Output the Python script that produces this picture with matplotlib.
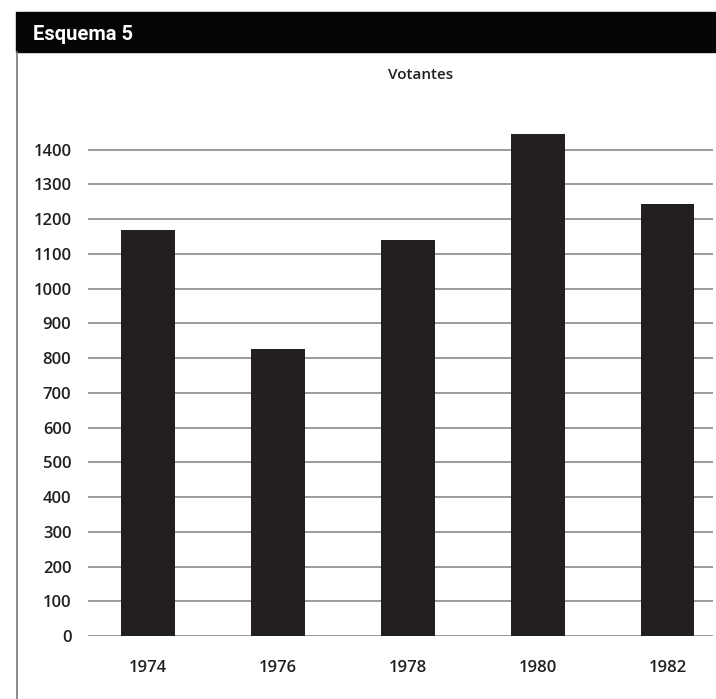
import matplotlib.pyplot as plt
from matplotlib.patches import Rectangle
from matplotlib.lines import Line2D

years = ["1974", "1976", "1978", "1980", "1982"]
votantes = [1170, 825, 1140, 1445, 1245]
yticks = list(range(0, 1500, 100))

BAR = "#231f20"
GRID = "#8a8a8a"

plt.rcParams["font.family"] = ["Open Sans", "DejaVu Sans"]

fig = plt.figure(figsize=(7.16, 6.99), dpi=100)
W, H = 716, 699

# header bar
fig.patches.append(Rectangle((16 / W, 1 - 52 / H), 1 - 16 / W, 40 / H,
                             transform=fig.transFigure, color="#050505", zorder=0))
fig.text(33 / W, 1 - 35 / H, "Esquema 5", color="white", fontsize=14.5,
         fontweight="bold", family=["Roboto", "DejaVu Sans"],
         va="center", ha="left")
# left frame line
fig.lines.append(Line2D([17 / W, 17 / W], [0, 1 - 52 / H], transform=fig.transFigure,
                        color="#777777", lw=1.2))

ax = fig.add_axes([88 / W, 63 / H, (713 - 88) / W, (636 - 115) / H])
x = range(len(years))
ax.bar(x, votantes, width=0.415, color=BAR, zorder=3)
ax.set_xlim(-0.46, 4.35)
ax.set_ylim(0, 1500)
ax.set_yticks(yticks)
ax.set_yticklabels([str(v) for v in yticks], fontsize=12, fontweight="semibold",
                   color="#231f20")
ax.set_xticks(list(x))
ax.set_xticklabels(years, fontsize=12, fontweight="semibold", color="#231f20")
ax.tick_params(axis="y", length=0, pad=12)
ax.tick_params(axis="x", length=0, pad=17)
for v in yticks:
    ax.axhline(v, color=GRID, lw=1.2, zorder=1)
for s in ax.spines.values():
    s.set_visible(False)

fig.text(421 / W, 1 - 75 / H, "Votantes", ha="center", va="center",
         fontsize=11, fontweight="semibold", color="#231f20")

fig.savefig("out.png", dpi=100)
